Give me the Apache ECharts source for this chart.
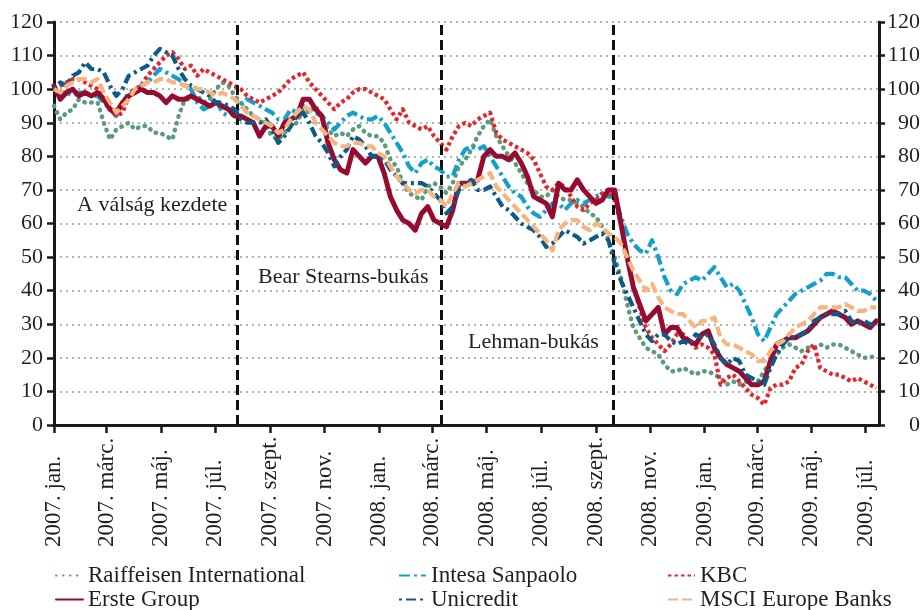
<!DOCTYPE html>
<html><head><meta charset="utf-8">
<script src="https://cdn.jsdelivr.net/npm/echarts@6/dist/echarts.min.js"></script>
<style>html,body{margin:0;padding:0;background:#fff}#c{width:923px;height:610px}</style>
</head><body><div id="c"></div>
<script>
// Weekly observations starting Monday 2007-01-01 (index = 100 at start)
const firstWeek = [2007, 0, 1];
const weekCount = 133;

const raiffeisen = [
 95, 91, 93, 94, 97, 96, 96, 96, 90, 85,
 88, 89, 90, 88, 89, 89, 87, 87, 86, 85,
 92, 97, 97, 98, 96, 97, 100, 102, 101, 98,
 96, 94, 92, 91, 89, 86, 85, 87, 89, 90,
 94, 93, 95, 91, 88, 86, 87, 86, 88, 89,
 87, 86, 86, 84, 79, 77, 72, 69, 68, 67,
 71, 72, 71, 69, 72, 77, 79, 82, 86, 89,
 91, 86, 83, 80, 78, 75, 72, 70, 68, 68,
 70, 68, 67, 67, 66, 65, 63, 62, 59, 55,
 50, 44, 36, 29, 26, 23, 22, 21, 18, 16,
 16, 17, 16, 15, 16, 16, 15, 14, 12, 13,
 12, 13, 12, 13, 16, 19, 21, 23, 24, 23,
 22, 23, 23, 24, 23, 24, 24, 23, 22, 21,
 20, 20, 21];
const intesa = [
 100, 99, 99, 98, 99, 99, 98, 98, 96, 94,
 92, 96, 99, 100, 101, 102, 104, 106, 105, 104,
 103, 101, 100, 96, 94, 95, 97, 93, 92, 93,
 95, 97, 96, 95, 94, 93, 91, 91, 94, 93,
 95, 94, 93, 92, 90, 88, 90, 92, 93, 92,
 91, 91, 92, 90, 87, 84, 81, 77, 75, 78,
 79, 77, 76, 74, 74, 79, 82, 83, 82, 83,
 80, 77, 74, 71, 69, 68, 65, 63, 62, 64,
 66, 66, 64, 66, 67, 66, 67, 68, 69, 68,
 68, 62, 57, 54, 52, 51, 55, 50, 44, 40,
 39, 42, 43, 44, 43, 45, 47, 44, 41, 42,
 40, 36, 32, 27, 25, 29, 33, 35, 37, 39,
 40, 41, 42, 43, 45, 45, 44, 44, 42, 40,
 40, 39, 37];
const kbc = [
 100, 101, 102, 103, 103, 102, 101, 100, 97, 94,
 92, 93, 98, 100, 101, 104, 106, 108, 110, 111,
 109, 106, 107, 104, 106, 105, 104, 103, 102, 101,
 100, 98, 97, 96, 97, 98, 99, 101, 103, 104,
 105, 102, 100, 98, 96, 94, 96, 97, 99, 100,
 100, 99, 98, 97, 94, 91, 94, 90, 89, 88,
 89, 86, 84, 82, 86, 89, 90, 89, 91, 92,
 93, 87, 85, 84, 83, 82, 81, 79, 75, 71,
 70, 72, 71, 68, 65, 64, 66, 67, 69, 70,
 67, 60, 50, 41, 35, 29, 26, 24, 22, 24,
 27, 27, 25, 23, 24, 23, 21, 12, 14, 15,
 13, 11, 9, 8, 6, 11, 12, 12, 13, 17,
 18, 22, 24, 17, 16, 15, 15, 14, 13, 14,
 13, 12, 11];
const erste = [
 101, 97, 99, 100, 98, 99, 98, 99, 97, 94,
 93, 96, 98, 99, 100, 99, 99, 98, 96, 98,
 97, 97, 98, 97, 96, 95, 96, 95, 94, 92,
 92, 91, 90, 86, 89, 89, 86, 90, 91, 92,
 97, 97, 94, 92, 84, 79, 76, 75, 82, 80,
 78, 80, 80, 75, 68, 64, 61, 60, 58, 63,
 65, 61, 60, 59, 64, 72, 72, 72, 73, 80,
 82, 80, 80, 79, 81, 78, 74, 68, 67, 66,
 62, 72, 70, 70, 73, 70, 68, 66, 67, 70,
 70, 60, 50, 41, 36, 31, 33, 35, 27, 29,
 29, 26, 25, 24, 27, 28, 23, 20, 18, 17,
 16, 14, 12, 12, 13, 19, 24, 25, 26, 26,
 27, 28, 30, 32, 33, 34, 33, 32, 30, 31,
 30, 29, 31];
const unicredit = [
 100, 102, 101, 104, 105, 108, 106, 106, 105, 101,
 98, 100, 104, 105, 106, 107, 110, 112, 111, 110,
 106, 103, 101, 100, 99, 98, 96, 96, 95, 94,
 91, 90, 90, 90, 91, 88, 84, 86, 89, 92,
 93, 90, 86, 84, 81, 77, 80, 82, 86, 85,
 83, 80, 80, 79, 76, 74, 72, 72, 72, 72,
 71, 69, 67, 63, 65, 70, 72, 73, 70, 70,
 71, 68, 65, 64, 62, 60, 59, 58, 56, 53,
 54, 56, 58, 57, 56, 54, 55, 56, 57, 55,
 48, 43, 39, 35, 31, 27, 25, 27, 27, 25,
 24, 25, 24, 27, 26, 27, 24, 20, 18, 20,
 19, 15, 14, 13, 12, 17, 21, 24, 26, 26,
 27, 28, 31, 32, 33, 33, 33, 34, 31, 30,
 31, 30, 30];
const msci = [
 100, 99, 101, 102, 103, 103, 102, 103, 99, 96,
 93, 95, 97, 100, 101, 102, 102, 103, 103, 102,
 102, 101, 101, 100, 100, 99, 98, 99, 98, 97,
 95, 93, 92, 91, 90, 89, 87, 88, 91, 93,
 95, 94, 90, 88, 86, 84, 83, 83, 84, 84,
 83, 83, 81, 80, 77, 74, 72, 70, 69, 70,
 70, 68, 67, 65, 69, 72, 71, 72, 73, 74,
 75, 71, 69, 67, 65, 63, 61, 59, 57, 55,
 52, 58, 60, 61, 61, 59, 58, 60, 59, 57,
 56, 54, 50, 46, 43, 40, 42, 38, 35, 34,
 33, 33, 31, 29, 31, 31, 32, 26, 24, 24,
 23, 22, 21, 19, 19, 22, 24, 25, 27, 29,
 30, 31, 33, 35, 35, 35, 35, 36, 35, 34,
 34, 35, 35];

const seriesNames = ['Raiffeisen International', 'Intesa Sanpaolo', 'KBC', 'Erste Group', 'Unicredit', 'MSCI Europe Banks'];
const seriesValues = [raiffeisen, intesa, kbc, erste, unicredit, msci];

// x-axis tick labels (every second month)
const tickMonths = [[2007,0],[2007,2],[2007,4],[2007,6],[2007,8],[2007,10],[2008,0],[2008,2],[2008,4],[2008,6],[2008,8],[2008,10],[2009,0],[2009,2],[2009,4],[2009,6]];
const monthNames = ['jan.','febr.','márc.','ápr.','máj.','jún.','júl.','aug.','szept.','okt.','nov.','dec.'];

// event markers
const eventDates = [[2007,6,26],[2008,2,11],[2008,8,20]];
const eventLabels = ['A válság kezdete', 'Bear Stearns-bukás', 'Lehman-bukás'];

const yMin = 0, yMax = 120, yStep = 10;

// ---------------- styling ----------------
const FONT = 'Liberation Serif';
const TXT = '#231f20';
const AX = '#1a1a1a';
const styles = [
  {color:'#5d9b7c', width:4.5, type:[0.5,6.5], cap:'round'},
  {color:'#14a0cc', width:4.2, type:[11,4,3,4], cap:'butt'},
  {color:'#e4262b', width:4.2, type:[3.5,3], cap:'butt'},
  {color:'#960b30', width:5, type:'solid', cap:'round'},
  {color:'#0d5a86', width:4.2, type:[3,4,10,4], cap:'butt'},
  {color:'#f7b47f', width:4.2, type:[10,4], cap:'butt'}
];
// legend placement: [left, top] per series (three columns, two rows)
const legendSlots = [[55,564],[398,564],[667,564],[55,588],[398,588],[667,588]];

const weekDates = [];
for (let k = 0; k < weekCount; k++) weekDates.push(new Date(firstWeek[0], firstWeek[1], firstWeek[2] + 7*k).getTime());
const tickValues = tickMonths.map(m => new Date(m[0], m[1], 1).getTime());
const ts = d => new Date(d[0], d[1], d[2]).getTime();

const series = seriesNames.map((name, i) => ({
  name: name, type: 'line', symbol: 'none', showSymbol: false, animation: false,
  data: weekDates.map((d, k) => [d, seriesValues[i][k]]),
  lineStyle: {color: styles[i].color, width: styles[i].width, type: styles[i].type, cap: styles[i].cap, join: 'round'},
  itemStyle: {color: styles[i].color},
  z: 2 + i
}));
series[0].markLine = {
  silent: true, symbol: ['none','none'], animation: false,
  label: {show: false},
  lineStyle: {color: '#111', width: 3, type: [10,5]},
  data: eventDates.map(d => ({xAxis: ts(d)}))
};

const legends = seriesNames.map((name, i) => ({
  orient: 'horizontal', left: legendSlots[i][0], top: legendSlots[i][1], padding: 0,
  itemWidth: 27, itemHeight: 12, selectedMode: false,
  itemStyle: {opacity: 0, borderWidth: 0},
  textStyle: {fontFamily: FONT, fontSize: 23, color: TXT},
  data: [name]
}));

const chart = echarts.init(document.getElementById('c'));
chart.setOption({
  backgroundColor: '#fff',
  animation: false,
  grid: {left: 54, right: 43, top: 22, bottom: 185, containLabel: false},
  xAxis: {
    type: 'value', scale: true, min: new Date(2007,0,1).getTime(), max: new Date(2009,6,16).getTime(),
    axisLine: {onZero: false, lineStyle: {color: AX, width: 3}},
    axisTick: {show: true, customValues: tickValues, length: 8, lineStyle: {color: AX, width: 2.5}},
    axisLabel: {
      customValues: tickValues, rotate: 90, align: 'left', margin: 122,
      fontFamily: FONT, fontSize: 23, color: TXT,
      formatter: v => { const d = new Date(v); return d.getFullYear() + '. ' + monthNames[d.getMonth()]; }
    },
    splitLine: {show: false}
  },
  yAxis: [
    {type: 'value', position: 'left', min: yMin, max: yMax, interval: yStep,
     axisLine: {show: true, lineStyle: {color: AX, width: 3}},
     axisTick: {show: true, length: 7, lineStyle: {color: AX, width: 2.5}},
     axisLabel: {fontFamily: FONT, fontSize: 22, color: TXT, margin: 11},
     splitLine: {show: true, lineStyle: {color: '#9a9a9a', width: 1.5, type: [2,4]}}},
    {type: 'value', position: 'right', min: yMin, max: yMax, interval: yStep,
     axisLine: {show: true, lineStyle: {color: AX, width: 3}},
     axisTick: {show: true, length: 6, lineStyle: {color: AX, width: 2.5}},
     axisLabel: {fontFamily: FONT, fontSize: 22, color: TXT, margin: 41, align: 'right'},
     splitLine: {show: false}}
  ],
  legend: legends,
  graphic: [
    {type: 'text', x: 77, y: 205, silent: true, style: {text: eventLabels[0], font: '22px "' + FONT + '"', fill: TXT, verticalAlign: 'middle'}},
    {type: 'text', x: 258, y: 277, silent: true, style: {text: eventLabels[1], font: '22px "' + FONT + '"', fill: TXT, verticalAlign: 'middle'}},
    {type: 'text', x: 468, y: 342, silent: true, style: {text: eventLabels[2], font: '22px "' + FONT + '"', fill: TXT, verticalAlign: 'middle'}}
  ],
  series: series
});
</script></body></html>
